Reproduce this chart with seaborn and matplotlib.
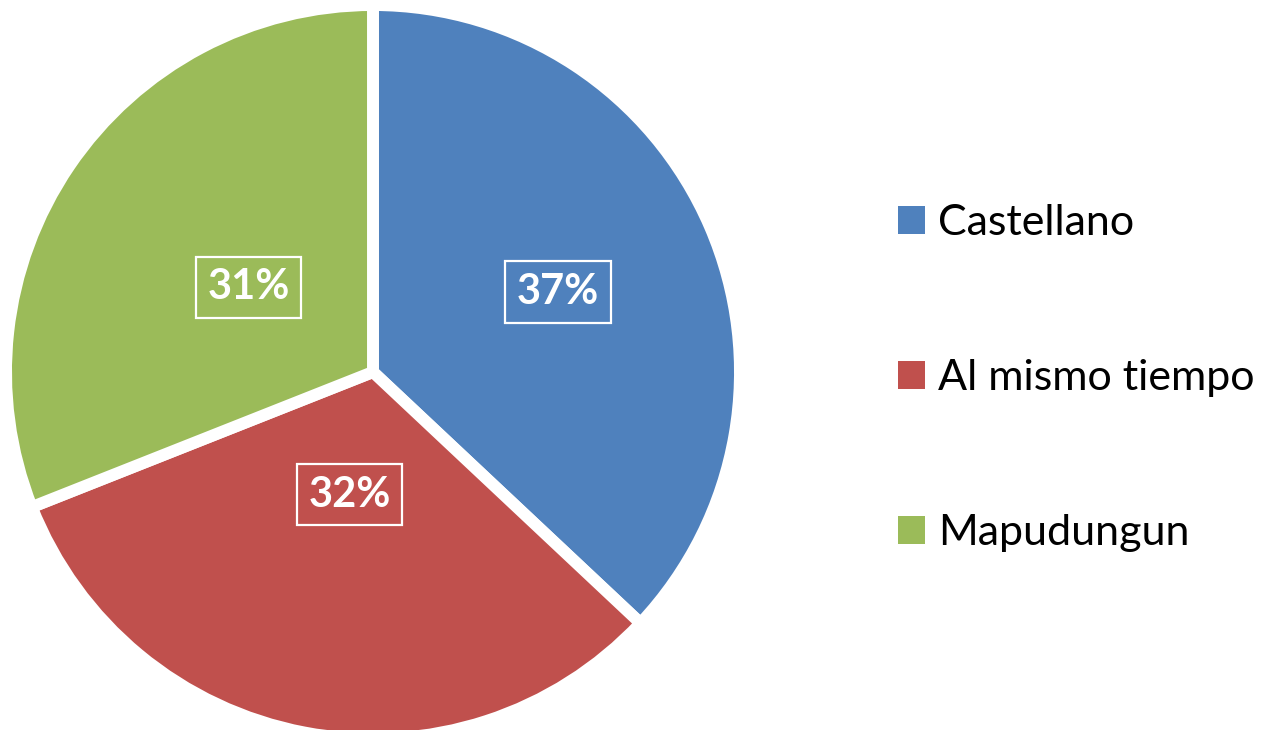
import numpy as np
import matplotlib
matplotlib.use("Agg")
import matplotlib.pyplot as plt
import seaborn as sns

# data
categorias = ["Castellano", "Al mismo tiempo", "Mapudungun"]
porcentajes = [37, 32, 31]
colores = ["#4F81BD", "#C0504D", "#9BBB59"]

sns.set_theme(style="white")
plt.rcParams["font.family"] = ["Lato", "DejaVu Sans"]
plt.rcParams["text.color"] = "black"

W, H = 1274, 730
fig = plt.figure(figsize=(W / 100, H / 100), dpi=100)
# pie centred at (373, 372) px from top-left, wedge radius 367 px
R = 367
cx, cy = 373, H - 372
ax = fig.add_axes([(cx - R) / W, (cy - R) / H, 2 * R / W, 2 * R / H])

wedges, texts, autotexts = ax.pie(
    porcentajes, colors=colores, startangle=90, counterclock=False,
    autopct="%1.0f%%", radius=1.0,
    wedgeprops=dict(edgecolor="white", linewidth=8.6),
    textprops=dict(color="white", fontsize=30, fontweight="bold"))
ax.set_xlim(-1, 1)
ax.set_ylim(-1, 1)
ax.set_aspect("equal")

# label distance per slice (Excel "best fit" style)
dist = [0.55, 0.34, 0.41]
for w, t, d in zip(wedges, autotexts, dist):
    ang = np.deg2rad((w.theta1 + w.theta2) / 2)
    t.set_position((d * np.cos(ang), d * np.sin(ang)))
    t.set_ha("center")
    t.set_va("center")
    t.set_bbox(dict(boxstyle="square,pad=0.28", facecolor="none",
                    edgecolor="white", linewidth=1.6))

leg = fig.legend(wedges, categorias, loc="center left",
                 bbox_to_anchor=(898 / W, 352 / H), frameon=False,
                 fontsize=31, handlelength=0.63, handleheight=0.63,
                 handletextpad=0.3, labelspacing=2.72,
                 borderpad=0, borderaxespad=0)
for h in leg.legend_handles:
    h.set_linewidth(0)
for t in leg.get_texts():
    t.set_color("black")

fig.savefig("out.png", dpi=100)
